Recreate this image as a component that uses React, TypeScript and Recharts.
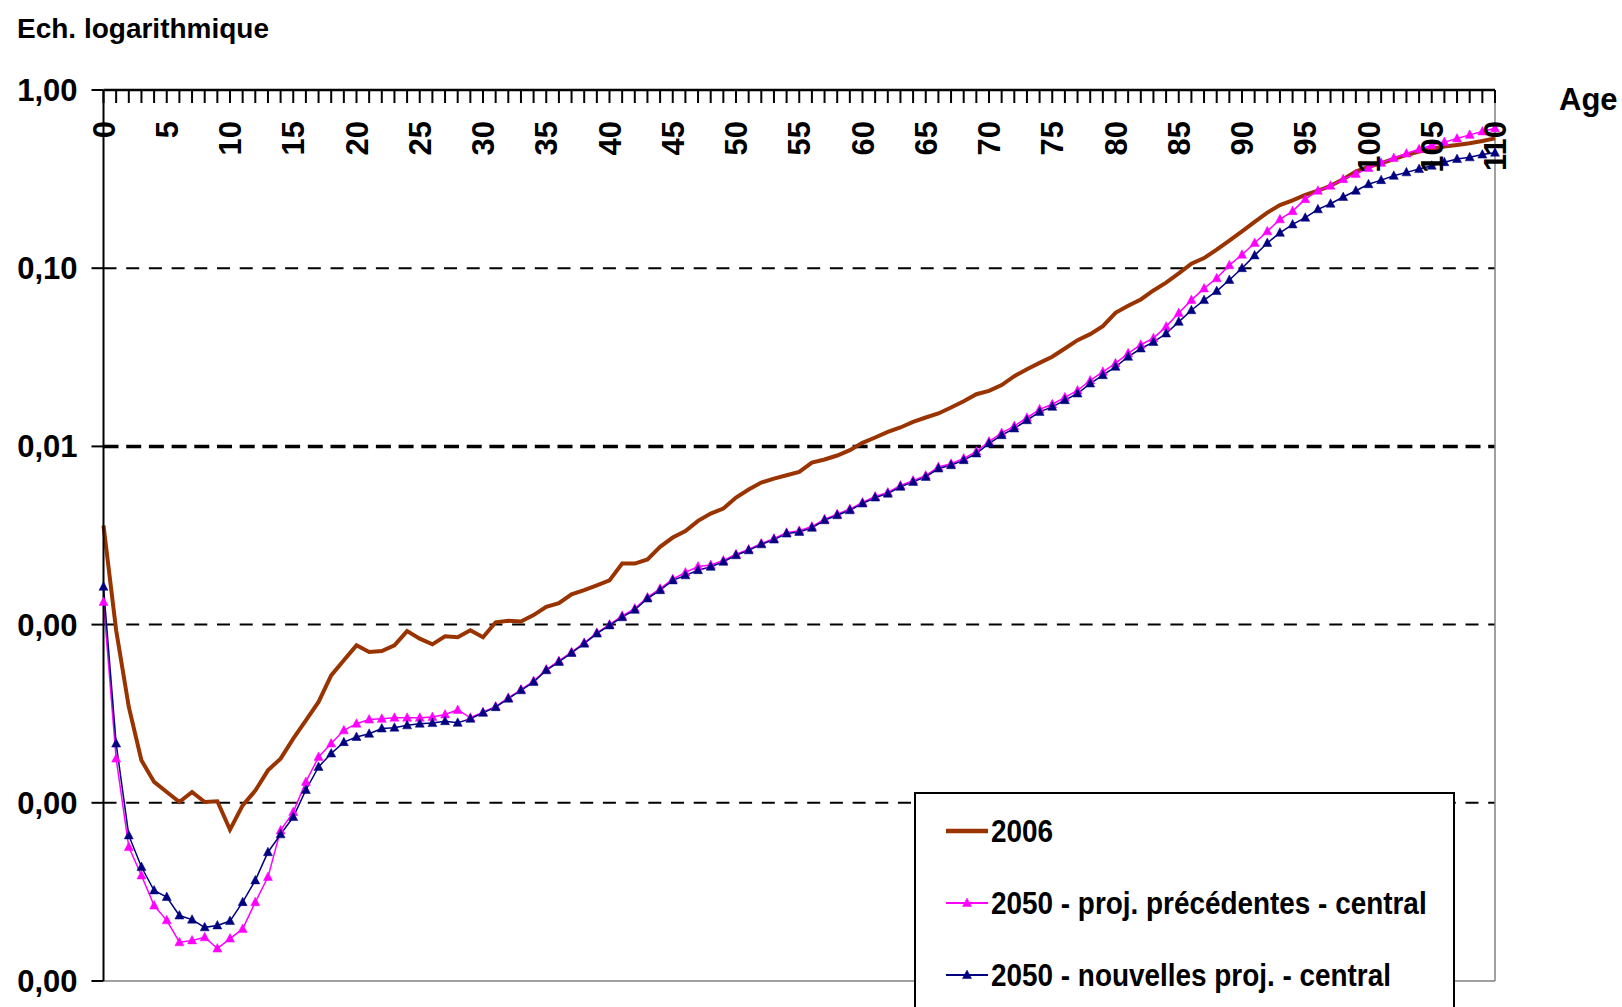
import React from 'react';
import { LineChart, Line, XAxis, YAxis, ReferenceLine, Legend } from 'recharts';

// Quotients de mortalité par âge (échelle logarithmique)
const AGES = Array.from({ length: 111 }, (_, i) => i);

const Q_2006 = [
  0.0036, 0.00093, 0.000345, 0.000173, 0.000131, 0.000115, 0.000101, 0.000115, 0.000101, 0.000102,
  0.0000706, 0.0000967, 0.000117, 0.000152, 0.000177, 0.000229, 0.00029, 0.000368, 0.000519, 0.000631,
  0.000765, 0.000702, 0.000711, 0.000765, 0.00092, 0.000834, 0.000775, 0.00086, 0.00085, 0.00093,
  0.00085, 0.00103, 0.00105, 0.00104, 0.00113, 0.00126, 0.00132, 0.00148, 0.00156, 0.00166,
  0.00177, 0.0022, 0.0022, 0.00232, 0.00273, 0.00308, 0.00335, 0.00382, 0.0042, 0.00448,
  0.00516, 0.00573, 0.00627, 0.0066, 0.00689, 0.0072, 0.00812, 0.00844, 0.00889, 0.00952,
  0.01047, 0.01122, 0.01207, 0.01277, 0.01374, 0.01453, 0.0153, 0.01653, 0.01794, 0.01963,
  0.0205, 0.0221, 0.02478, 0.0271, 0.02942, 0.03184, 0.03542, 0.03948, 0.04266, 0.0473,
  0.0562, 0.0615, 0.0668, 0.075, 0.083, 0.0935, 0.106, 0.114, 0.127, 0.143,
  0.161, 0.182, 0.205, 0.226, 0.24, 0.258, 0.272, 0.29, 0.316, 0.349,
  0.371, 0.388, 0.41, 0.432, 0.452, 0.468, 0.482, 0.492, 0.503, 0.517,
  0.535,
];

const Q_2050_PREC = [
  0.00134, 0.000177, 0.0000564, 0.0000391, 0.0000265, 0.0000219, 0.0000165, 0.0000169, 0.0000176, 0.0000152,
  0.0000173, 0.0000196, 0.0000277, 0.0000383, 0.00007, 0.0000887, 0.000131, 0.000181, 0.000215, 0.000255,
  0.000278, 0.000293, 0.000296, 0.0003, 0.0003, 0.0003, 0.000303, 0.000313, 0.000332, 0.0003,
  0.000322, 0.000347, 0.000388, 0.000432, 0.000482, 0.00056, 0.000625, 0.0007, 0.00079, 0.0009,
  0.001, 0.00112, 0.00123, 0.00142, 0.00159, 0.0018, 0.00196, 0.00212, 0.00216, 0.00229,
  0.00248, 0.00264, 0.00285, 0.00304, 0.00328, 0.00336, 0.00355, 0.0039, 0.00417, 0.00445,
  0.00485, 0.00524, 0.00552, 0.00603, 0.00643, 0.00686, 0.00766, 0.008, 0.00856, 0.00935,
  0.01065, 0.0119, 0.013, 0.01448, 0.01615, 0.01725, 0.01885, 0.0206, 0.02345, 0.0262,
  0.02925, 0.0333, 0.0372, 0.0405, 0.047, 0.056, 0.0662, 0.077, 0.0878, 0.104,
  0.119, 0.1385, 0.161, 0.188, 0.209, 0.244, 0.272, 0.29, 0.316, 0.338,
  0.365, 0.39, 0.415, 0.44, 0.465, 0.49, 0.51, 0.535, 0.56, 0.585,
  0.61,
];

const Q_2050_NOUV = [
  0.00163, 0.000215, 0.0000656, 0.0000436, 0.0000322, 0.0000296, 0.0000233, 0.0000221, 0.00002, 0.0000205,
  0.0000217, 0.0000277, 0.0000367, 0.0000528, 0.0000665, 0.0000832, 0.000118, 0.000159, 0.000189, 0.000219,
  0.000234, 0.000244, 0.000261, 0.000264, 0.000272, 0.000278, 0.00028, 0.000287, 0.000281, 0.000296,
  0.00032, 0.000344, 0.000384, 0.000428, 0.000476, 0.000554, 0.000617, 0.000693, 0.000782, 0.00089,
  0.00099, 0.0011, 0.00121, 0.0014, 0.00156, 0.00177, 0.00189, 0.00202, 0.00211, 0.00225,
  0.00245, 0.00261, 0.00282, 0.003, 0.00324, 0.00331, 0.00349, 0.00385, 0.00411, 0.00438,
  0.00478, 0.00516, 0.00543, 0.00593, 0.00632, 0.00674, 0.00751, 0.00784, 0.00837, 0.00912,
  0.01038, 0.01156, 0.0126, 0.01402, 0.01562, 0.01667, 0.01817, 0.0198, 0.02254, 0.0251,
  0.02797, 0.03184, 0.03542, 0.0385, 0.043, 0.05, 0.0581, 0.0662, 0.0744, 0.0859,
  0.1, 0.118, 0.1385, 0.158, 0.176, 0.192, 0.214, 0.23, 0.251, 0.272,
  0.296, 0.312, 0.33, 0.345, 0.36, 0.376, 0.393, 0.41, 0.419, 0.434,
  0.445,
];

const Y_TICKS = [0.00001, 0.0001, 0.001, 0.01, 0.1, 1];
const DASHED_LINES = [0.1, 0.01, 0.001, 0.0001];

const SERIES = [
  { key: 'q2006', name: '2006', color: '#993300', marker: false },
  { key: 'prec', name: '2050 - proj. précédentes - central', color: '#FF00FF', marker: true },
  { key: 'nouv', name: '2050 - nouvelles proj. - central', color: '#000080', marker: true },
];

const data = AGES.map((age, i) => ({
  age,
  q2006: Q_2006[i],
  prec: Q_2050_PREC[i],
  nouv: Q_2050_NOUV[i],
}));

const FONT = '"Liberation Sans", Arial, sans-serif';
const W = 1622;
const H = 1007;
const PLOT_TOP = 90;

const fmt = (v: number) => v.toFixed(2).replace('.', ',');

const Triangle = ({ cx, cy, fill }: { cx: number; cy: number; fill: string }) => {
  if (cx == null || cy == null) return null;
  return (
    <path
      d={`M${cx},${cy - 5} L${cx + 4.5},${cy + 3.5} L${cx - 4.5},${cy + 3.5} Z`}
      fill={fill}
      stroke={fill}
      strokeWidth={0.5}
    />
  );
};

const AgeTick = (props: any) => {
  const { x, payload } = props;
  const age = payload.value;
  return (
    <g>
      <line x1={x} x2={x} y1={PLOT_TOP} y2={PLOT_TOP + 13} stroke="#000" strokeWidth={2} />
      {age % 5 === 0 && (
        <text
          transform={`translate(${x},${PLOT_TOP + 31}) rotate(-90)`}
          textAnchor="end"
          dy="0.36em"
          fontSize={31}
          fontWeight={700}
          fontFamily={FONT}
          fill="#000"
        >
          {age}
        </text>
      )}
    </g>
  );
};

const LEGEND_W = 541;
const LEGEND_H = 240;

const renderLegend = () => (
  <svg width={LEGEND_W} height={LEGEND_H} style={{ display: 'block' }}>
    <rect x={1} y={1} width={LEGEND_W - 2} height={LEGEND_H} fill="#fff" stroke="#000" strokeWidth={2} />
    {SERIES.map((s, i) => {
      const cy = 39 + i * 72;
      return (
        <g key={s.key}>
          <line x1={32} x2={74} y1={cy} y2={cy} stroke={s.color} strokeWidth={s.marker ? 2 : 4.5} />
          {s.marker && <Triangle cx={53} cy={cy} fill={s.color} />}
          <text
            transform={`translate(77,${cy + 11}) scale(0.9,1)`}
            fontSize={31}
            fontWeight={700}
            fontFamily={FONT}
            fill="#000"
          >
            {s.name}
          </text>
        </g>
      );
    })}
  </svg>
);

export default function App() {
  return (
    <div
      style={{
        position: 'absolute',
        left: 0,
        top: 0,
        width: W,
        height: H,
        overflow: 'hidden',
        background: '#fff',
      }}
    >
      <LineChart width={W} height={H} data={data} margin={{ top: 60, right: 127, bottom: 26, left: 0 }}>
        <XAxis
          dataKey="age"
          type="number"
          domain={[0, 110]}
          ticks={AGES}
          interval={0}
          orientation="top"
          height={30}
          axisLine={{ stroke: '#000', strokeWidth: 2.5 }}
          tickLine={false}
          tick={<AgeTick />}
        />
        <YAxis
          type="number"
          scale="log"
          domain={[0.00001, 1]}
          allowDataOverflow
          ticks={Y_TICKS}
          interval={0}
          width={103.5}
          tickSize={12}
          tickMargin={14}
          tickFormatter={fmt}
          axisLine={{ stroke: '#000', strokeWidth: 2 }}
          tickLine={{ stroke: '#000', strokeWidth: 2 }}
          tick={{ fill: '#000', fontSize: 31, fontWeight: 700, fontFamily: FONT }}
        />
        {DASHED_LINES.map((v) => (
          <ReferenceLine
            key={v}
            y={v}
            stroke="#000"
            strokeWidth={v === 0.01 ? 3.5 : 2}
            strokeDasharray={v === 0.01 ? '15 7.7' : '13 9.7'}
          />
        ))}
        <ReferenceLine y={0.00001} stroke="#808080" strokeWidth={1.5} />
        <ReferenceLine x={110} stroke="#808080" strokeWidth={1.5} />
        <Line
          dataKey="q2006"
          name={SERIES[0].name}
          type="linear"
          stroke={SERIES[0].color}
          strokeWidth={4}
          dot={false}
          activeDot={false}
          isAnimationActive={false}
        />
        <Line
          dataKey="prec"
          name={SERIES[1].name}
          type="linear"
          stroke={SERIES[1].color}
          strokeWidth={1.5}
          dot={(p: any) => <Triangle key={`p${p.index}`} cx={p.cx} cy={p.cy} fill={SERIES[1].color} />}
          activeDot={false}
          isAnimationActive={false}
        />
        <Line
          dataKey="nouv"
          name={SERIES[2].name}
          type="linear"
          stroke={SERIES[2].color}
          strokeWidth={1.5}
          dot={(p: any) => <Triangle key={`n${p.index}`} cx={p.cx} cy={p.cy} fill={SERIES[2].color} />}
          activeDot={false}
          isAnimationActive={false}
        />
        <Legend
          layout="vertical"
          align="center"
          verticalAlign="middle"
          content={renderLegend}
          wrapperStyle={{ left: 914, top: 792, width: LEGEND_W, height: LEGEND_H }}
        />
      </LineChart>
      <svg
        width={W}
        height={130}
        style={{ position: 'absolute', left: 0, top: 0, pointerEvents: 'none' }}
      >
        <text x={17} y={38} fontSize={28} fontWeight={700} fontFamily={FONT} fill="#000">
          Ech. logarithmique
        </text>
        <text x={1559} y={110} fontSize={31} fontWeight={700} fontFamily={FONT} fill="#000">
          Age
        </text>
      </svg>
    </div>
  );
}
